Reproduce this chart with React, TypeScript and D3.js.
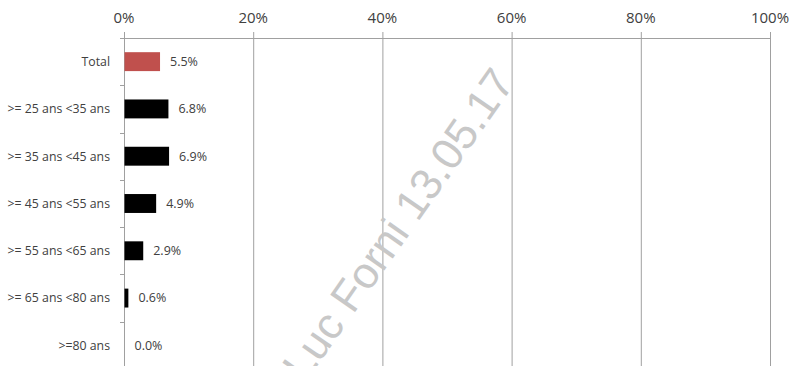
import React from "react";
import * as d3 from "d3";

const categories = [
  "Total",
  ">= 25 ans <35 ans",
  ">= 35 ans <45 ans",
  ">= 45 ans <55 ans",
  ">= 55 ans <65 ans",
  ">= 65 ans <80 ans",
  ">=80 ans",
];
const values = [5.5, 6.8, 6.9, 4.9, 2.9, 0.6, 0.0];
const barColors = ["#C0504D", "#000000", "#000000", "#000000", "#000000", "#000000", "#000000"];
const xTicks = [0, 20, 40, 60, 80, 100];
const watermark = "Luc Forni 13.05.17";

const W = 792;
const H = 366;

export default function App() {
  const left = 124;
  const right = 770;
  const top = 38;
  const bottom = 369;
  const x = d3.scaleLinear().domain([0, 100]).range([left, right]);
  const y = d3
    .scaleBand<string>()
    .domain(categories)
    .range([top, bottom])
    .paddingInner(0.6)
    .paddingOuter(0.3);
  const step = y.step();
  const bw = y.bandwidth();
  const font = "'Open Sans', sans-serif";
  const grid = "#A0A0A0";
  const text = "#404040";

  return (
    <svg
      width={W}
      height={H}
      style={{ position: "absolute", left: 0, top: 0, background: "#fff" }}
    >
      <rect x={0} y={0} width={W} height={H} fill="#fff" />
      {xTicks.map((t) => (
        <line
          key={"g" + t}
          x1={x(t) + 0.5}
          x2={x(t) + 0.5}
          y1={top - 6}
          y2={H}
          stroke={grid}
          strokeWidth={1}
        />
      ))}
      <line x1={left - 4} x2={right + 0.5} y1={top + 0.5} y2={top + 0.5} stroke={grid} />
      {categories.map((c, i) => (
        <line
          key={"lt" + i}
          x1={left - 4}
          x2={left}
          y1={Math.round(top + step * (i + 1)) + 0.5}
          y2={Math.round(top + step * (i + 1)) + 0.5}
          stroke={grid}
        />
      ))}
      {xTicks.map((t) => (
        <text
          key={"tl" + t}
          x={x(t)}
          y={23}
          textAnchor="middle"
          fontFamily={font}
          fontSize={15}
          fill={text}
        >
          {t + "%"}
        </text>
      ))}
      {categories.map((c, i) => (
        <rect
          key={"b" + i}
          x={x(0) + 0.5}
          y={y(c) as number}
          width={Math.max(0, x(values[i]) - x(0))}
          height={bw}
          fill={barColors[i]}
        />
      ))}
      {categories.map((c, i) => (
        <text
          key={"c" + i}
          x={110}
          y={(y(c) as number) + bw / 2}
          dy="0.35em"
          textAnchor="end"
          fontFamily={font}
          fontSize={12.3}
          fill={text}
        >
          {c}
        </text>
      ))}
      {categories.map((c, i) => (
        <text
          key={"v" + i}
          x={x(values[i]) + 10.5}
          y={(y(c) as number) + bw / 2}
          dy="0.35em"
          textAnchor="start"
          fontFamily={font}
          fontSize={12.5}
          fill={text}
        >
          {values[i].toFixed(1) + "%"}
        </text>
      ))}
      <text
        x={398}
        y={224}
        transform="rotate(-55 398 224)"
        textAnchor="middle"
        dy="0.35em"
        fontFamily="'Liberation Sans', Arial, sans-serif"
        fontSize={44}
        fill="#C8C8C8"
      >
        {watermark}
      </text>
    </svg>
  );
}
